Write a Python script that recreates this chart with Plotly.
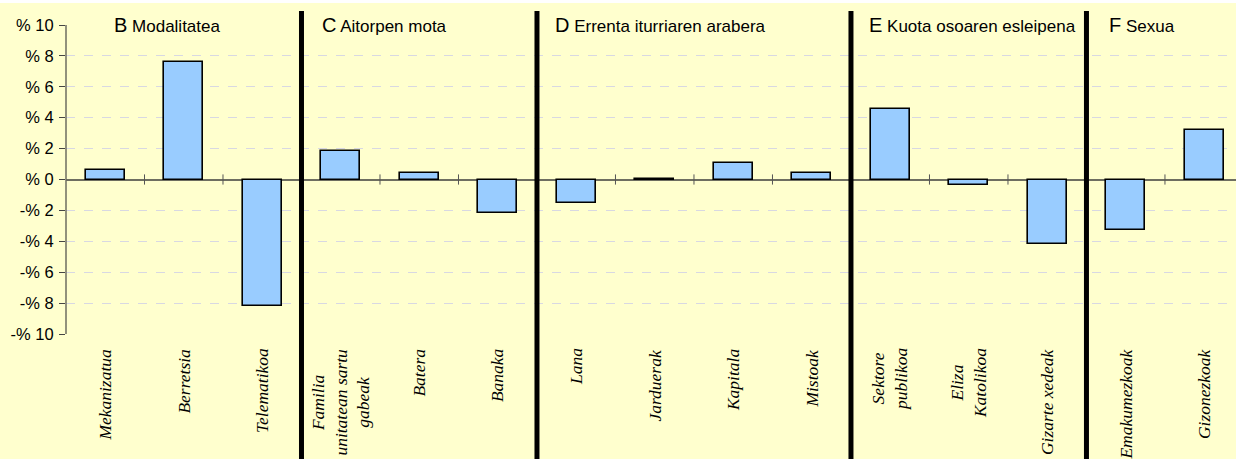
import plotly.graph_objects as go

# ---- data ----
groups = ["B", "C", "D", "E", "F"]
group_titles = ["Modalitatea", "Aitorpen mota", "Errenta iturriaren arabera",
                "Kuota osoaren esleipena", "Sexua"]
group_sizes = [3, 3, 4, 3, 2]
categories = ["Mekanizatua", "Berretsia", "Telematikoa",
              "Familia<br>unitatean sartu<br>gabeak", "Batera", "Banaka",
              "Lana", "Jarduerak", "Kapitala", "Mistoak",
              "Sektore<br>publikoa", "Eliza<br>Katolikoa", "Gizarte xedeak",
              "Emakumezkoak", "Gizonezkoak"]
values = [0.6, 7.6, -8.2,
          1.83, 0.4, -2.15,
          -1.5, 0.05, 1.05, 0.45,
          4.57, -0.35, -4.2,
          -3.25, 3.23]
y_ticks = [10, 8, 6, 4, 2, 0, -2, -4, -6, -8, -10]
y_tick_labels = ["% 10", "% 8", "% 6", "% 4", "% 2", "% 0",
                 "-% 2", "-% 4", "-% 6", "-% 8", "-% 10"]
title_x = [0.08, 2.74, 5.71, 9.7, 12.76]

BG = "#FFFFCE"
xs = list(range(len(categories)))

fig = go.Figure()
fig.add_trace(go.Bar(
    x=xs, y=values, width=0.5,
    marker=dict(color="#99CCFF", line=dict(color="black", width=1.6)),
    hoverinfo="skip", showlegend=False))

shapes = []
# small tick marks on zero line at category boundaries
for i in range(len(categories) - 1):
    shapes.append(dict(type="line", xref="x", yref="y", x0=i + 0.5, x1=i + 0.5,
                       y0=-0.33, y1=0.33, line=dict(color="#555555", width=1)))
# thick separators between groups
pos = -0.5
for s in group_sizes[:-1]:
    pos += s
    shapes.append(dict(type="line", xref="x", yref="paper", x0=pos, x1=pos,
                       y0=-0.41, y1=1.045, line=dict(color="black", width=5),
                       layer="above"))
# y-axis line
shapes.append(dict(type="line", xref="paper", yref="paper", x0=0, x1=0,
                   y0=0, y1=1, line=dict(color="#6E6E60", width=1.5)))
# thin white strip at very top
shapes.append(dict(type="rect", xref="paper", yref="paper", x0=-0.1, x1=1.1,
                   y0=1.0715, y1=1.1, fillcolor="white", line=dict(width=0),
                   layer="below"))

annotations = []
for g, t, gx in zip(groups, group_titles, title_x):
    annotations.append(dict(
        x=gx, y=10, xref="x", yref="y", xanchor="left", yanchor="middle",
        text=f"<span style='font-size:20px'>{g}</span> {t}",
        showarrow=False, bgcolor=BG,
        font=dict(family="Liberation Sans, Arial", size=17, color="black")))
for x, c in zip(xs, categories):
    annotations.append(dict(
        x=x, y=-0.04, xref="x", yref="paper", xanchor="center", yanchor="top",
        text=f"<i>{c}</i>", textangle=-90, showarrow=False, align="center",
        font=dict(family="Liberation Serif, Times New Roman", size=17.5, color="black")))

fig.update_layout(
    width=1236, height=459,
    margin=dict(l=66, r=0, t=25, b=125),
    paper_bgcolor=BG, plot_bgcolor=BG,
    bargap=0,
    shapes=shapes, annotations=annotations,
    xaxis=dict(range=[-0.5, 14.405], showticklabels=False, showgrid=False,
               zeroline=False, showline=False, ticks=""),
    yaxis=dict(range=[-10, 10], tickvals=y_ticks, ticktext=y_tick_labels,
               ticks="outside", ticklen=6, tickwidth=1, tickcolor="#444444",
               ticklabelstandoff=2,
               showgrid=True, gridcolor="#D8D8E2", griddash="dash", gridwidth=1,
               zeroline=True, zerolinecolor="#6E6E60", zerolinewidth=1.5,
               showline=False,
               tickfont=dict(family="Liberation Sans, Arial", size=16.5, color="black")),
)

fig.write_html("out.html", config={"displayModeBar": False},
               post_script="document.body.style.margin='0';document.body.style.overflow='hidden';")
